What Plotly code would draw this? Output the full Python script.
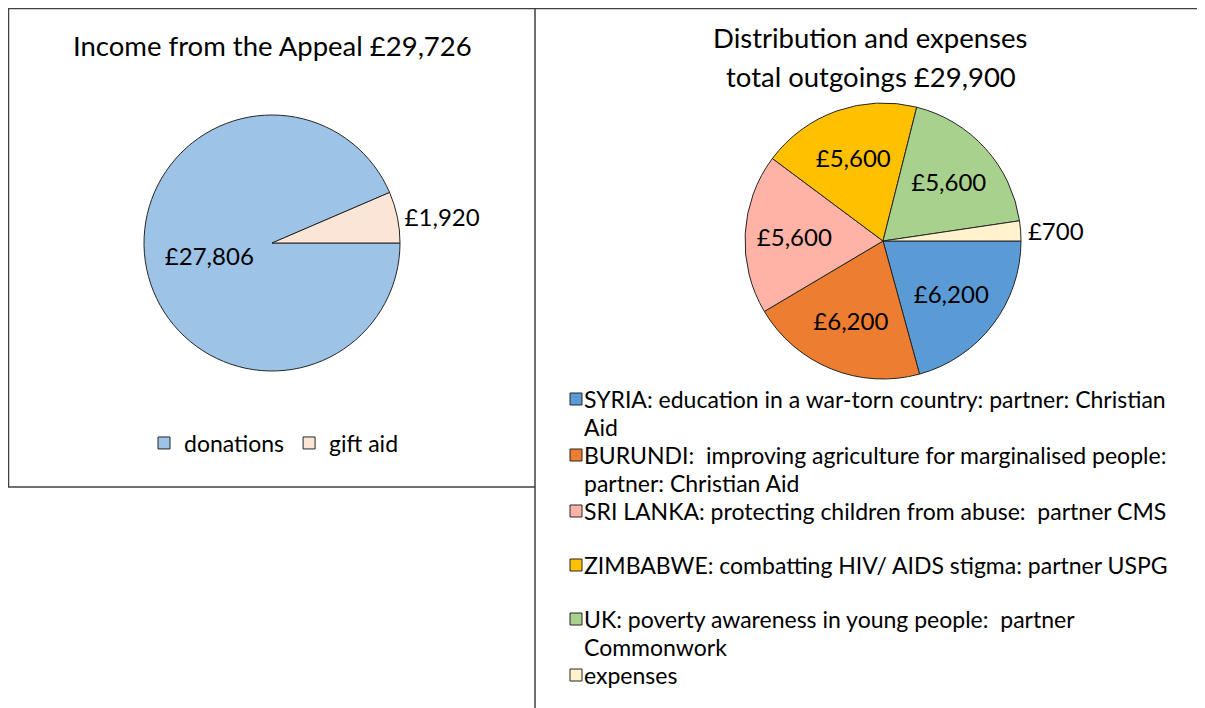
import plotly.graph_objects as go

# ---- data ----
income_labels = ["donations", "gift aid"]
income_values = [27806, 1920]
income_colors = ["#9DC3E6", "#FBE5D6"]

out_labels = [
    "SYRIA: education in a war-torn country: partner: Christian<br>Aid",
    "BURUNDI:  improving agriculture for marginalised people:<br>partner: Christian Aid",
    "SRI LANKA: protecting children from abuse:  partner CMS",
    "ZIMBABWE: combatting HIV/ AIDS stigma: partner USPG",
    "UK: poverty awareness in young people:  partner<br>Commonwork",
    "expenses",
]
out_values = [6200, 6200, 5600, 5600, 5600, 700]
out_colors = ["#5B9BD5", "#ED7D31", "#FFB3A7", "#FFC000", "#A9D18E", "#FFF2CC"]

title_left = "Income from the Appeal £29,726"
title_right = ["Distribution and expenses", "total outgoings £29,900"]

FONT = "Lato"
OFF = 8  # page body margin
W, H = 1205 - OFF, 708 - OFF


def px_x(v):
    return (v - OFF) / W


def px_y(v):
    return 1 - (v - OFF) / H


fig = go.Figure()

fig.add_trace(go.Pie(
    labels=income_labels, values=income_values,
    marker=dict(colors=income_colors, line=dict(color="#262626", width=1)),
    sort=False, direction="clockwise", rotation=90,
    texttemplate="£%{value:,}", textposition=["inside", "outside"],
    insidetextorientation="horizontal",
    textfont=dict(family=FONT, size=24, color="#000000"),
    domain=dict(x=[px_x(144), px_x(400)], y=[px_y(371), px_y(115)]),
    legend="legend", hoverinfo="label+value",
))

fig.add_trace(go.Pie(
    labels=out_labels, values=out_values,
    marker=dict(colors=out_colors, line=dict(color="#262626", width=1)),
    sort=False, direction="clockwise", rotation=90,
    texttemplate="£%{value:,}", textposition=["inside"] * 5 + ["outside"],
    insidetextorientation="horizontal",
    textfont=dict(family=FONT, size=24, color="#000000"),
    domain=dict(x=[px_x(745), px_x(1021)], y=[px_y(379), px_y(103)]),
    showlegend=False, hoverinfo="value",
))

border = "#404040"
shapes = [
    dict(type="line", x0=px_x(8), x1=1, y0=px_y(8.5), y1=px_y(8.5)),
    dict(type="line", x0=px_x(8.5), x1=px_x(8.5), y0=px_y(8), y1=px_y(487)),
    dict(type="line", x0=px_x(8), x1=px_x(535), y0=px_y(487), y1=px_y(487)),
    dict(type="line", x0=px_x(535), x1=px_x(535), y0=px_y(8), y1=0),
]
for s in shapes:
    s.update(xref="paper", yref="paper", line=dict(color=border, width=1.5))

annotations = [
    dict(text=title_left, x=px_x(272), y=px_y(46)),
    dict(text=title_right[0], x=px_x(870), y=px_y(38)),
    dict(text=title_right[1], x=px_x(871), y=px_y(76)),
]
for a in annotations:
    a.update(xref="paper", yref="paper", showarrow=False, xanchor="center", yanchor="middle",
             font=dict(family=FONT, size=27.5, color="#000000"))

# legend for the distribution pie (entries laid out like the source: two line slots each)
leg_top = 399
leg_step = 28
y = leg_top
for lab, col in zip(out_labels, out_colors):
    shapes.append(dict(type="rect", xref="paper", yref="paper",
                       x0=px_x(570), x1=px_x(582), y0=px_y(y - 6), y1=px_y(y + 6),
                       fillcolor=col, line=dict(color="#262626", width=1)))
    lines = lab.split("<br>")
    for k, line in enumerate(lines):
        annotations.append(dict(text=line, x=px_x(583), y=px_y(y + k * leg_step),
                                xref="paper", yref="paper", showarrow=False,
                                xanchor="left", yanchor="middle", align="left",
                                borderpad=0,
                                font=dict(family=FONT, size=23, color="#000000")))
    y += 2 * leg_step - (1 if len(lines) == 1 else 0) * 2 + 0

fig.update_layout(
    width=W, height=H,
    margin=dict(l=0, r=0, t=0, b=0),
    paper_bgcolor="white", plot_bgcolor="white",
    font=dict(family=FONT, color="#000000"),
    shapes=shapes,
    annotations=annotations,
    legend=dict(orientation="h", x=px_x(274), y=px_y(443), xanchor="center", yanchor="middle",
                font=dict(family=FONT, size=23, color="#000000"), itemclick=False,
                traceorder="normal", itemwidth=30),
)

fig.write_html("out.html")
